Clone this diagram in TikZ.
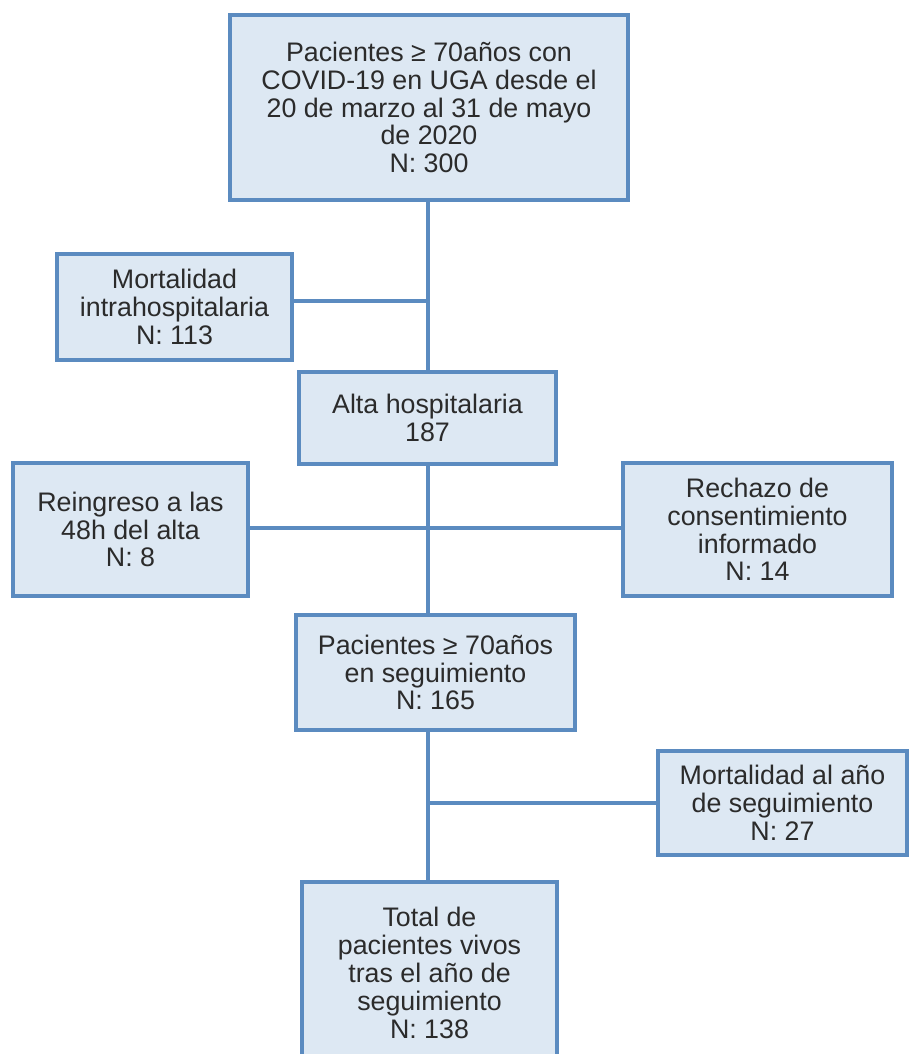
\documentclass[tikz,border=0pt]{standalone}
\usepackage{fontspec}
\setmainfont{Liberation Sans}
\definecolor{boxborder}{HTML}{5B8BC0}
\definecolor{boxfill}{HTML}{DDE8F3}
\definecolor{textcol}{HTML}{2B2B2B}
\begin{document}
\begin{tikzpicture}[x=1pt,y=-1pt,
  box/.style={draw=boxborder, fill=boxfill, line width=4pt, align=center,
    inner sep=0pt, text=textcol, font=\fontsize{26.8}{27.8}\selectfont},
  link/.style={draw=boxborder, line width=4pt}]
\useasboundingbox (0,0) rectangle (909,1054);
\clip (0,0) rectangle (909,1054);
\node[box, minimum width=398pt, minimum height=185pt] (top) at (429,107.5)
  {Pacientes ≥ 70años con\\COVID-19 en UGA desde el\\20 de marzo al 31 de mayo\\de 2020\\N: 300};
\node[box, minimum width=235pt, minimum height=106pt] (m1) at (174.5,307)
  {Mortalidad\\intrahospitalaria\\N: 113};
\node[box, minimum width=257pt, minimum height=92pt] (alta) at (427.5,418)
  {Alta hospitalaria\\187};
\node[box, minimum width=235pt, minimum height=133pt] (reing) at (130.5,529.5)
  {Reingreso a las\\48h del alta\\N: 8};
\node[box, minimum width=269pt, minimum height=133pt] (rech) at (757.5,529.5)
  {Rechazo de\\consentimiento\\informado\\N: 14};
\node[box, minimum width=279pt, minimum height=115pt] (pac) at (435.5,672.5)
  {Pacientes ≥ 70años\\en seguimiento\\N: 165};
\node[box, minimum width=249pt, minimum height=104pt] (m2) at (782.5,803)
  {Mortalidad al año\\de seguimiento\\N: 27};
\node[box, minimum width=255pt, minimum height=182pt] (total) at (429.5,973)
  {Total de\\pacientes vivos\\tras el año de\\seguimiento\\N: 138};
\coordinate (X) at (428,0);
\coordinate (J1) at (428,301);
\coordinate (J2) at (428,528);
\coordinate (J3) at (428,803);
\draw[link] (top.south -| X) -- (alta.north -| X);
\draw[link] (J1 -| m1.east) -- (J1);
\draw[link] (alta.south -| X) -- (pac.north -| X);
\draw[link] (J2 -| reing.east) -- (J2 -| rech.west);
\draw[link] (pac.south -| X) -- (total.north -| X);
\draw[link] (J3) -- (J3 -| m2.west);
\end{tikzpicture}
\end{document}
